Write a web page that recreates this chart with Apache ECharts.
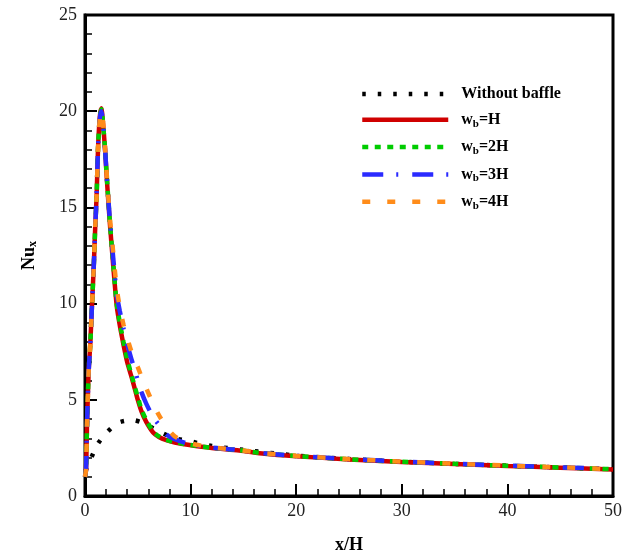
<!DOCTYPE html>
<html>
<head>
<meta charset="utf-8">
<script src="https://cdn.jsdelivr.net/npm/echarts@6/dist/echarts.min.js"></script>
<style>
  html, body { margin: 0; padding: 0; background: #fff; }
  #chart { width: 625px; height: 559px; }
</style>
</head>
<body>
<div id="chart"></div>
<script>
// x/H positions and Nu_x values
const xNoBaffle = [0.05, 0.6, 1.2, 2.07, 3.1, 4.5, 5.5, 6.5, 7.2, 8.5, 9.9, 12, 15, 20, 25, 30, 35, 40, 45, 50];
const nuNoBaffle = [1.3, 2.0, 2.7, 3.3, 3.8, 3.95, 3.8, 3.5, 3.3, 3.0, 2.85, 2.6, 2.4, 2.1, 1.92, 1.78, 1.67, 1.57, 1.48, 1.39];

const xBaffle = [0, 0.1, 0.2, 0.35, 0.5, 0.66, 0.82, 0.97, 1.1, 1.23, 1.4, 1.55, 1.7, 1.9, 2.1, 2.35, 2.7, 3.0, 3.3, 3.65, 4.0, 4.4, 4.75, 5.0, 5.35, 5.8, 6.45, 7.0, 7.7, 8.5, 9.9, 12, 14.6, 17, 20, 25, 30, 35, 40, 45, 50];
const nuWbH = [1.0, 1.4, 3.9, 6.5, 7.9, 9.9, 11.8, 14.0, 15.6, 18.0, 19.7, 20.15, 19.4, 18.0, 16.2, 14.2, 11.8, 9.9, 8.85, 7.85, 6.95, 6.2, 5.5, 5.0, 4.4, 3.85, 3.3, 3.07, 2.9, 2.78, 2.65, 2.5, 2.37, 2.2, 2.07, 1.9, 1.77, 1.66, 1.56, 1.47, 1.38];
const nuWb2H = [1.0, 1.4, 3.9, 6.5, 7.9, 9.9, 11.8, 14.0, 15.6, 18.0, 19.7, 20.1, 19.4, 18.0, 16.3, 14.3, 11.9, 10.0, 9.0, 8.0, 7.1, 6.3, 5.6, 5.15, 4.5, 3.95, 3.35, 3.1, 2.92, 2.8, 2.66, 2.51, 2.38, 2.21, 2.08, 1.91, 1.78, 1.67, 1.57, 1.48, 1.39];
const nuWb3H = [1.0, 1.4, 3.9, 6.5, 7.9, 9.9, 11.8, 14.0, 15.6, 18.0, 19.6, 20.0, 19.4, 18.0, 16.3, 14.4, 12.2, 10.5, 9.6, 8.7, 7.9, 7.1, 6.5, 6.0, 5.4, 4.8, 4.1, 3.7, 3.2, 2.95, 2.7, 2.52, 2.39, 2.22, 2.09, 1.92, 1.79, 1.68, 1.58, 1.49, 1.4];
const nuWb4H = [1.0, 1.4, 3.9, 6.5, 7.9, 9.9, 11.8, 14.0, 15.6, 18.0, 19.6, 20.0, 19.5, 18.1, 16.4, 14.5, 12.5, 10.8, 9.8, 8.9, 8.2, 7.5, 7.0, 6.7, 6.2, 5.6, 4.8, 4.2, 3.6, 3.1, 2.75, 2.53, 2.39, 2.22, 2.09, 1.92, 1.79, 1.68, 1.58, 1.49, 1.4];

const xTicks = [0, 10, 20, 30, 40, 50];
const yTicks = [0, 5, 10, 15, 20, 25];
const seriesNames = ["Without baffle", "wb=H", "wb=2H", "wb=3H", "wb=4H"];

const serif = "'Liberation Serif', 'Times New Roman', serif";

function pairs(xs, ys) {
  return xs.map((x, i) => [x, ys[i]]);
}

const chart = echarts.init(document.getElementById("chart"));

function makeLine(name, xs, ys, color, dash) {
  return {
    name: name,
    type: "line",
    data: pairs(xs, ys),
    symbol: "none",
    showSymbol: false,
    smooth: 0.25,
    lineStyle: { color: color, width: 4.5, type: dash, cap: "butt" },
    itemStyle: { color: color },
    animation: false,
  };
}

const option = {
  animation: false,
  backgroundColor: "#fff",
  grid: {
    left: 85,
    right: 10,
    top: 15,
    bottom: 60,
    show: true,
    borderColor: "#000",
    borderWidth: 3,
  },
  legend: {
    left: 355,
    top: 81,
    orient: "vertical",
    itemWidth: 86,
    itemHeight: 20,
    itemGap: 8.3,
    data: seriesNames,
    itemStyle: { opacity: 0 },
    lineStyle: { width: 4.5 },
    formatter: (name) => {
      if (name.startsWith("wb")) return "{a|w}{s|b}{a|" + name.slice(2) + "}";
      return "{a|" + name + "}";
    },
    textStyle: {
      padding: [0, 0, 0, 8],
      rich: {
        a: { fontFamily: serif, fontWeight: "bold", fontSize: 16, color: "#000", lineHeight: 20 },
        s: { fontFamily: serif, fontWeight: "bold", fontSize: 11, color: "#000", padding: [8, 0, 0, 0], lineHeight: 20 },
      },
    },
  },
  xAxis: {
    type: "value",
    min: 0,
    max: 50,
    interval: 10,
    name: "x/H",
    nameLocation: "middle",
    nameGap: 40,
    nameTextStyle: { fontFamily: serif, fontWeight: "bold", fontSize: 18, color: "#000" },
    axisLine: { lineStyle: { color: "#000", width: 3 } },
    axisTick: { inside: true, length: 12, lineStyle: { color: "#000", width: 2 } },
    minorTick: { show: true, splitNumber: 5, length: 7, lineStyle: { color: "#000", width: 1.5 } },
    axisLabel: {
      fontFamily: serif,
      fontSize: 18,
      color: "#222",
      margin: 6,
      formatter: (v) => (xTicks.includes(v) ? String(v) : ""),
    },
    splitLine: { show: false },
  },
  yAxis: {
    type: "value",
    min: 0,
    max: 25,
    interval: 5,
    name: "{a|Nu}{s|x}",
    nameLocation: "middle",
    nameGap: 46,
    nameRotate: 90,
    nameTextStyle: {
      rich: {
        a: { fontFamily: serif, fontWeight: "bold", fontSize: 18, color: "#000" },
        s: { fontFamily: serif, fontWeight: "bold", fontSize: 12, color: "#000", padding: [8, 0, 0, 0] },
      },
    },
    axisLine: { lineStyle: { color: "#000", width: 3 } },
    axisTick: { inside: true, length: 12, lineStyle: { color: "#000", width: 2 } },
    minorTick: { show: true, splitNumber: 5, length: 7, lineStyle: { color: "#000", width: 1.5 } },
    axisLabel: {
      fontFamily: serif,
      fontSize: 18,
      color: "#222",
      margin: 8,
      formatter: (v) => (yTicks.includes(v) ? String(v) : ""),
    },
    splitLine: { show: false },
  },
  series: [
    makeLine(seriesNames[0], xNoBaffle, nuNoBaffle, "#000000", [3.5, 12]),
    makeLine(seriesNames[1], xBaffle, nuWbH, "#d00000", "solid"),
    makeLine(seriesNames[2], xBaffle, nuWb2H, "#00cc00", [6, 6.5]),
    makeLine(seriesNames[3], xBaffle, nuWb3H, "#2b2bff", [21, 13, 2, 14]),
    makeLine(seriesNames[4], xBaffle, nuWb4H, "#ff8c1a", [8, 17]),
  ],
};

chart.setOption(option);
</script>
</body>
</html>
